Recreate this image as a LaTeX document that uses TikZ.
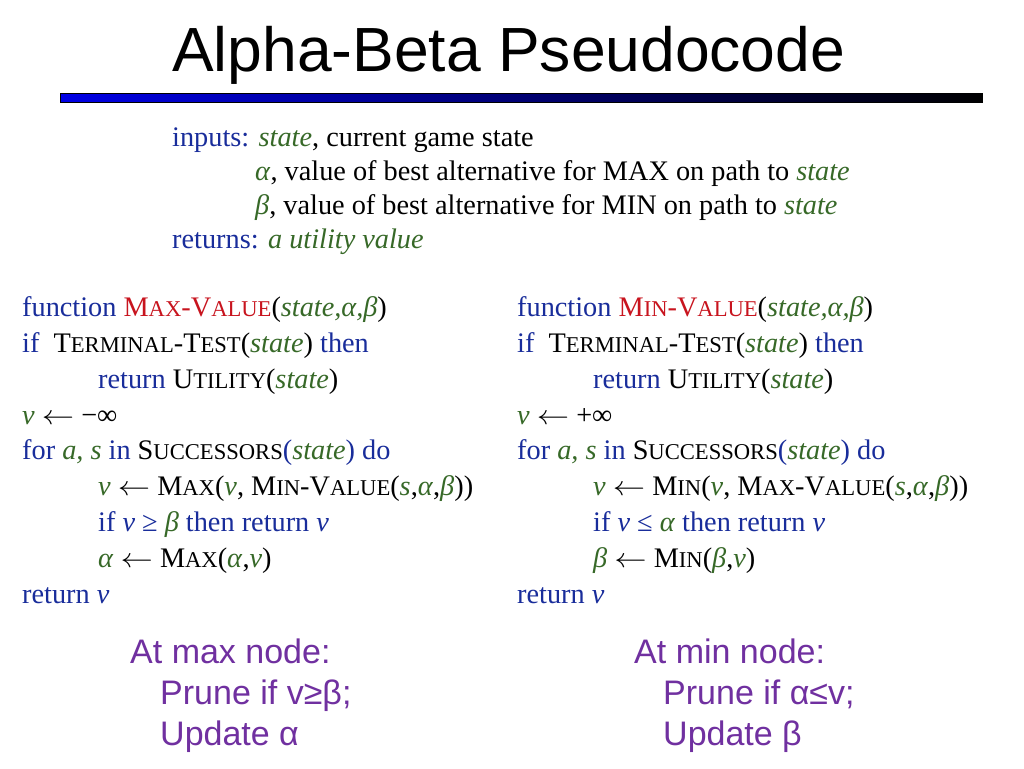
\documentclass[tikz,border=0pt]{standalone}
\usepackage{fontspec}
\setmainfont{Liberation Serif}
\newfontfamily\arialfont{Liberation Sans}
\definecolor{kwblue}{RGB}{25,45,155}
\definecolor{vargreen}{RGB}{55,105,40}
\definecolor{fnred}{RGB}{200,20,30}
\definecolor{notepurple}{RGB}{112,48,160}
\newcommand\kw[1]{\textcolor{kwblue}{#1}}
\newcommand\vr[1]{\textcolor{vargreen}{\textit{#1}}}
\newcommand\fsc[2]{#1{\fontsize{22.6}{22.6}\selectfont #2}}
\newcommand\ind{\hspace*{76pt}}
\newcommand\la{\scalebox{1.3}[1.1]{\ensuremath{\leftarrow}}}
\begin{document}
\begin{tikzpicture}[x=1pt,y=-1pt]
    \tikzset{code/.style={anchor=base west, inner sep=0pt, align=left, font=\fontsize{28.3}{35.8}\selectfont},
             note/.style={anchor=base west, inner sep=0pt, align=left, text=notepurple, font=\arialfont\fontsize{34}{41}\selectfont}}
    \useasboundingbox[fill=white] (0,0) rectangle (1024,768);

    \node[anchor=base west, inner sep=0pt, font=\arialfont\fontsize{62.4}{62.4}\selectfont] at (172,71) (title) {Alpha-Beta Pseudocode};
    \path[draw=black, line width=0.4pt, left color=blue!90!black, right color=black] (60,93) rectangle (982,102);

    % anchor base = baseline of the last line
    \node[code, font=\fontsize{28.3}{34}\selectfont] at (172,248) (inputs) {%
      \kw{inputs:} \vr{state}, current game state\\
      \hspace*{83pt}\vr{α}, value of best alternative for MAX on path to \vr{state}\\
      \hspace*{83pt}\vr{β}, value of best alternative for MIN on path to \vr{state}\\
      \kw{returns:} \vr{a utility value}};

    \node[code] at (22,603) (maxvalue) {%
      \kw{function} \textcolor{fnred}{\fsc{M}{AX}-\fsc{V}{ALUE}}(\vr{state,α,β})\\
      \kw{if}\ \ \fsc{T}{ERMINAL}-\fsc{T}{EST}(\vr{state}) \kw{then}\\
      \ind\kw{return} \fsc{U}{TILITY}(\vr{state})\\
      \vr{v} \la{} −∞\\
      \kw{for} \vr{a, s} \kw{in} \fsc{S}{UCCESSORS}\kw{(}\vr{state}\kw{)} \kw{do}\\
      \ind\vr{v} \la{} \fsc{M}{AX}(\vr{v}, \fsc{M}{IN}-\fsc{V}{ALUE}(\vr{s},\vr{α},\vr{β}))\\
      \ind\kw{if \textit{v} ≥} \vr{β} \kw{then return \textit{v}}\\
      \ind\vr{α} \la{} \fsc{M}{AX}(\vr{α},\vr{v})\\
      \kw{return \textit{v}}};

    \node[code] at (517,603) (minvalue) {%
      \kw{function} \textcolor{fnred}{\fsc{M}{IN}-\fsc{V}{ALUE}}(\vr{state,α,β})\\
      \kw{if}\ \ \fsc{T}{ERMINAL}-\fsc{T}{EST}(\vr{state}) \kw{then}\\
      \ind\kw{return} \fsc{U}{TILITY}(\vr{state})\\
      \vr{v} \la{} +∞\\
      \kw{for} \vr{a, s} \kw{in} \fsc{S}{UCCESSORS}\kw{(}\vr{state}\kw{)} \kw{do}\\
      \ind\vr{v} \la{} \fsc{M}{IN}(\vr{v}, \fsc{M}{AX}-\fsc{V}{ALUE}(\vr{s},\vr{α},\vr{β}))\\
      \ind\kw{if \textit{v} ≤} \vr{α} \kw{then return \textit{v}}\\
      \ind\vr{β} \la{} \fsc{M}{IN}(\vr{β},\vr{v})\\
      \kw{return \textit{v}}};

    \node[note] at (130,745) (maxnote) {At max node:\\\hspace*{30pt}Prune if v≥β;\\\hspace*{30pt}Update α};
    \node[note] at (634,745) (minnote) {At min node:\\\hspace*{29pt}Prune if α≤v;\\\hspace*{29pt}Update β};
\end{tikzpicture}
\end{document}
